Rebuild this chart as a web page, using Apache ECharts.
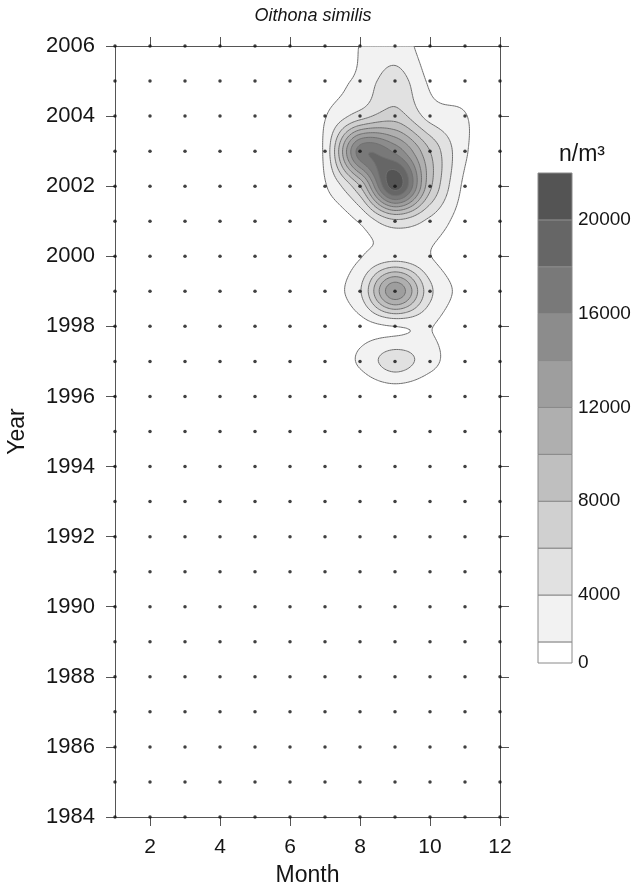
<!DOCTYPE html>
<html>
<head>
<meta charset="utf-8">
<script src="https://cdn.jsdelivr.net/npm/echarts@6/dist/echarts.min.js"></script>
<style>
  html, body { margin: 0; padding: 0; background: #fff; }
  #chart { width: 633px; height: 889px; }
</style>
</head>
<body>
<div id="chart"></div>
<script>
// sample grid: months x years, dots mark every sample
const MONTHS = [1, 2, 3, 4, 5, 6, 7, 8, 9, 10, 11, 12];
const YEARS = [1984, 1985, 1986, 1987, 1988, 1989, 1990, 1991, 1992, 1993, 1994, 1995,
               1996, 1997, 1998, 1999, 2000, 2001, 2002, 2003, 2004, 2005, 2006];

// Oithona similis abundance (n/m3), one row per year from 2006 down to 1984, Jan..Dec
const ABUNDANCE = [
  /*2006*/ [0, 0, 0, 0, 0,   0,  400,  2050,  3000, 1000,  200,   0],
  /*2005*/ [0, 0, 0, 0, 0,   0, 1000,  2500,  5000, 1700,  900,   0],
  /*2004*/ [0, 0, 0, 0, 0, 200, 1900,  5000,  7000, 3200, 2100, 300],
  /*2003*/ [0, 0, 0, 0, 0, 300, 2500, 17000, 15500, 8000, 2300, 500],
  /*2002*/ [0, 0, 0, 0, 0, 200, 1800,  8000, 21000, 8500, 1500, 300],
  /*2001*/ [0, 0, 0, 0, 0,   0,  500,  2200,  5500, 3500, 1000,   0],
  /*2000*/ [0, 0, 0, 0, 0,   0,  400,  1900,  3000, 2050,  500,   0],
  /*1999*/ [0, 0, 0, 0, 0,   0, 1000,  3800, 13500, 4500, 1200,   0],
  /*1998*/ [0, 0, 0, 0, 0,   0,  200,  1300,  2000, 2100,  300,   0],
  /*1997*/ [0, 0, 0, 0, 0,   0,  300,  2300,  5000, 2700,  400,   0],
  /*1996*/ [0, 0, 0, 0, 0,   0,    0,     0,   300,    0,    0,   0],
  /*1995*/ [0, 0, 0, 0, 0, 0, 0, 0, 0, 0, 0, 0],
  /*1994*/ [0, 0, 0, 0, 0, 0, 0, 0, 0, 0, 0, 0],
  /*1993*/ [0, 0, 0, 0, 0, 0, 0, 0, 0, 0, 0, 0],
  /*1992*/ [0, 0, 0, 0, 0, 0, 0, 0, 0, 0, 0, 0],
  /*1991*/ [0, 0, 0, 0, 0, 0, 0, 0, 0, 0, 0, 0],
  /*1990*/ [0, 0, 0, 0, 0, 0, 0, 0, 0, 0, 0, 0],
  /*1989*/ [0, 0, 0, 0, 0, 0, 0, 0, 0, 0, 0, 0],
  /*1988*/ [0, 0, 0, 0, 0, 0, 0, 0, 0, 0, 0, 0],
  /*1987*/ [0, 0, 0, 0, 0, 0, 0, 0, 0, 0, 0, 0],
  /*1986*/ [0, 0, 0, 0, 0, 0, 0, 0, 0, 0, 0, 0],
  /*1985*/ [0, 0, 0, 0, 0, 0, 0, 0, 0, 0, 0, 0],
  /*1984*/ [0, 0, 0, 0, 0, 0, 0, 0, 0, 0, 0, 0]
];

// contour levels and the grey of each band (band i = [2000*i, 2000*(i+1)])
const LEVELS = [2000, 4000, 6000, 8000, 10000, 12000, 14000, 16000, 18000, 20000];
const BAND_COLORS = ['#ffffff', '#f2f2f2', '#e1e1e1', '#d0d0d0', '#bfbfbf', '#afafaf',
                     '#9e9e9e', '#8c8c8c', '#797979', '#666666', '#545454'];
const CB_BOUNDS = [0, 2000, 4000, 6000, 8000, 10000, 12000, 14000, 16000, 18000, 20000, 22000];
const CB_LABELS = [0, 4000, 8000, 12000, 16000, 20000];
const CB_MIN = 1100;   // the white 0 band is drawn short in the legend
const X_TICKS = [2, 4, 6, 8, 10, 12];

const FONT = 'Liberation Sans, Arial, Helvetica, sans-serif';

// ---- contouring (smooth surface through the samples, then marching squares) ----
function sample(mi, yi) {
  mi = Math.max(0, Math.min(MONTHS.length - 1, mi));
  yi = Math.max(0, Math.min(YEARS.length - 1, yi));
  return ABUNDANCE[YEARS.length - 1 - yi][mi];
}
function cr(p0, p1, p2, p3, t) {
  return 0.5 * (2 * p1 + (p2 - p0) * t + (2 * p0 - 5 * p1 + 4 * p2 - p3) * t * t +
    (3 * p1 - p0 - 3 * p2 + p3) * t * t * t);
}
function surface(m, y) {
  const fx = m - MONTHS[0], fy = y - YEARS[0];
  let i = Math.min(Math.floor(fx), MONTHS.length - 2);
  let j = Math.min(Math.floor(fy), YEARS.length - 2);
  const tx = fx - i, ty = fy - j;
  const col = [];
  for (let k = -1; k <= 2; k++) {
    col.push(cr(sample(i - 1, j + k), sample(i, j + k), sample(i + 1, j + k), sample(i + 2, j + k), tx));
  }
  return cr(col[0], col[1], col[2], col[3], ty);
}

const STEP = 0.05;
const NX = Math.round((MONTHS[MONTHS.length - 1] - MONTHS[0]) / STEP) + 1;
const NY = Math.round((YEARS[YEARS.length - 1] - YEARS[0]) / STEP) + 1;
const F = [];
for (let iy = 0; iy < NY; iy++) {
  const row = new Float64Array(NX);
  for (let ix = 0; ix < NX; ix++) row[ix] = surface(MONTHS[0] + ix * STEP, YEARS[0] + iy * STEP);
  F.push(row);
}
function valueAt(ix, iy) {
  if (ix < 0 || iy < 0 || ix >= NX || iy >= NY) return -1e9;
  return F[iy][ix];
}

function contourRings(L) {
  const pts = new Map(), adj = new Map();
  function edge(ax, ay, bx, by) {
    const key = ax + ',' + ay + ',' + bx + ',' + by;
    if (!pts.has(key)) {
      const a = valueAt(ax, ay), b = valueAt(bx, by);
      const t = (L - a) / (b - a);
      let x = ax + (bx - ax) * t, y = ay + (by - ay) * t;
      x = Math.max(0, Math.min(NX - 1, x));
      y = Math.max(0, Math.min(NY - 1, y));
      pts.set(key, [MONTHS[0] + x * STEP, YEARS[0] + y * STEP]);
    }
    return key;
  }
  function link(k1, k2) {
    if (!adj.has(k1)) adj.set(k1, []);
    if (!adj.has(k2)) adj.set(k2, []);
    adj.get(k1).push(k2);
    adj.get(k2).push(k1);
  }
  for (let iy = -1; iy < NY; iy++) {
    for (let ix = -1; ix < NX; ix++) {
      const bl = valueAt(ix, iy), br = valueAt(ix + 1, iy);
      const tr = valueAt(ix + 1, iy + 1), tl = valueAt(ix, iy + 1);
      const ibl = bl >= L, ibr = br >= L, itr = tr >= L, itl = tl >= L;
      const B = ibl !== ibr ? edge(ix, iy, ix + 1, iy) : null;
      const R = ibr !== itr ? edge(ix + 1, iy, ix + 1, iy + 1) : null;
      const T = itl !== itr ? edge(ix, iy + 1, ix + 1, iy + 1) : null;
      const Lf = ibl !== itl ? edge(ix, iy, ix, iy + 1) : null;
      const list = [B, R, T, Lf].filter(Boolean);
      if (list.length === 2) link(list[0], list[1]);
      else if (list.length === 4) {
        const c = (bl + br + tr + tl) / 4 >= L;
        if (ibl === c) { link(B, R); link(T, Lf); }
        else { link(Lf, B); link(R, T); }
      }
    }
  }
  const rings = [], seen = new Set();
  for (const start of adj.keys()) {
    if (seen.has(start)) continue;
    const ring = [];
    let prev = null, cur = start;
    while (cur && !seen.has(cur)) {
      seen.add(cur);
      ring.push(pts.get(cur));
      const nb = adj.get(cur);
      const next = nb[0] !== prev ? nb[0] : nb[1];
      prev = cur;
      cur = next;
    }
    if (ring.length > 2) rings.push(ring);
  }
  return rings;
}

const RINGS = LEVELS.map(contourRings);

// sample dots
const dots = [];
YEARS.forEach(y => MONTHS.forEach(m => dots.push([m, y])));

const axisGrey = '#555555';
const textColor = '#151515';

const chart = echarts.init(document.getElementById('chart'));
chart.setOption({
  animation: false,
  backgroundColor: '#fff',
  title: [
    {
      text: 'Oithona similis', left: 308, top: 2, textAlign: 'center',
      textStyle: { fontFamily: FONT, fontStyle: 'italic', fontWeight: 'normal', fontSize: 18, color: textColor }
    },
    {
      text: 'n/m³', left: 577, top: 138, textAlign: 'center',
      textStyle: { fontFamily: FONT, fontWeight: 'normal', fontSize: 23, color: textColor }
    }
  ],
  grid: [
    { left: 115, right: 133, top: 46, bottom: 72, outerBoundsMode: 'none' },
    { left: 538, width: 34, top: 173, height: 490, outerBoundsMode: 'none' }
  ],
  xAxis: [
    {
      gridIndex: 0, type: 'value', min: 1, max: 12, position: 'bottom',
      axisLine: { lineStyle: { color: axisGrey, width: 1 } },
      axisTick: { customValues: X_TICKS, length: 9, lineStyle: { color: axisGrey } },
      axisLabel: { customValues: X_TICKS, fontFamily: FONT, fontSize: 21, color: textColor, margin: 20 },
      splitLine: { show: false },
      name: 'Month', nameLocation: 'middle', nameGap: 47,
      nameTextStyle: { fontFamily: FONT, fontSize: 23, color: textColor }
    },
    {
      gridIndex: 0, type: 'value', min: 1, max: 12, position: 'top',
      axisLine: { lineStyle: { color: axisGrey, width: 1 } },
      axisTick: { customValues: X_TICKS, length: 9, lineStyle: { color: axisGrey } },
      axisLabel: { show: false },
      splitLine: { show: false }
    },
    { gridIndex: 1, type: 'value', min: 0, max: 1, show: false }
  ],
  yAxis: [
    {
      gridIndex: 0, type: 'value', min: 1984, max: 2006, interval: 2, position: 'left',
      axisLine: { show: true, lineStyle: { color: axisGrey, width: 1 } },
      axisTick: { show: true, length: 9, lineStyle: { color: axisGrey } },
      axisLabel: { formatter: v => String(v), fontFamily: FONT, fontSize: 22, color: textColor, margin: 20 },
      splitLine: { show: false },
      name: 'Year', nameLocation: 'middle', nameGap: 86,
      nameTextStyle: { fontFamily: FONT, fontSize: 23, color: textColor }
    },
    {
      gridIndex: 0, type: 'value', min: 1984, max: 2006, interval: 2, position: 'right',
      axisLine: { show: true, lineStyle: { color: axisGrey, width: 1 } },
      axisTick: { show: true, length: 9, lineStyle: { color: axisGrey } },
      axisLabel: { show: false },
      splitLine: { show: false }
    },
    {
      gridIndex: 1, type: 'value', min: CB_MIN, max: 22000, position: 'right',
      axisLine: { show: false }, axisTick: { show: false }, splitLine: { show: false },
      axisLabel: {
        customValues: CB_LABELS.map(v => Math.max(v, CB_MIN)),
        formatter: v => (v <= CB_MIN ? '0' : String(v)),
        fontFamily: FONT, fontSize: 19, color: textColor, margin: 6
      }
    }
  ],
  series: [
    {
      type: 'custom', name: 'contours', xAxisIndex: 0, yAxisIndex: 0,
      data: [[MONTHS[0], YEARS[0]]], clip: true, silent: true, z: 1,
      renderItem: function (params, api) {
        const children = [];
        RINGS.forEach((rings, li) => {
          rings.forEach(ring => {
            children.push({
              type: 'polygon',
              shape: { points: ring.map(p => api.coord(p)) },
              style: { fill: BAND_COLORS[li + 1], stroke: '#707070', lineWidth: 1 }
            });
          });
        });
        return { type: 'group', children: children };
      }
    },
    {
      type: 'scatter', name: 'samples', xAxisIndex: 0, yAxisIndex: 0,
      data: dots, symbolSize: 3.5, silent: true, z: 5,
      itemStyle: { color: '#111111' }
    },
    {
      type: 'custom', name: 'legend', xAxisIndex: 2, yAxisIndex: 2,
      data: CB_BOUNDS.slice(0, -1).map((lo, i) => [lo, CB_BOUNDS[i + 1]]),
      encode: { y: [0, 1] }, silent: true,
      renderItem: function (params, api) {
        const lo = Math.max(api.value(0), CB_MIN), hi = api.value(1);
        const p1 = api.coord([0, hi]), p2 = api.coord([1, lo]);
        return {
          type: 'rect',
          shape: { x: p1[0], y: p1[1], width: p2[0] - p1[0], height: p2[1] - p1[1] },
          style: { fill: BAND_COLORS[params.dataIndex], stroke: '#8a8a8a', lineWidth: 1 }
        };
      }
    }
  ]
});
</script>
</body>
</html>
